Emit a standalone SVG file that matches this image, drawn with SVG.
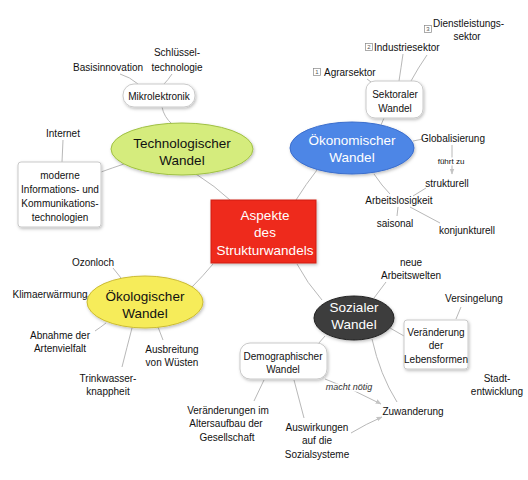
<svg xmlns="http://www.w3.org/2000/svg" width="528" height="480" viewBox="0 0 528 480">
<defs>
<filter id="sh" x="-20%" y="-20%" width="140%" height="150%">
<feDropShadow dx="1" dy="1.5" stdDeviation="1.5" flood-color="#000" flood-opacity="0.25"/>
</filter>
<marker id="ar" viewBox="0 0 10 10" refX="9" refY="5" markerWidth="6" markerHeight="6" orient="auto">
<path d="M0,1 L10,5 L0,9 z" fill="#c4c4c4"/>
</marker>
<style>
text{font-family:"Liberation Sans","Noto Sans",sans-serif;fill:#111;}
.t{font-size:10px;text-anchor:middle;}
.ts{font-size:10px;text-anchor:start;}
.big{font-size:13.5px;text-anchor:middle;}
.w{fill:#fff;}
.lbl{font-size:8px;text-anchor:middle;paint-order:stroke;stroke:#fff;stroke-width:3px;}
.it{font-size:9px;font-style:italic;text-anchor:middle;fill:#333;paint-order:stroke;stroke:#fff;stroke-width:3px;}
.box{fill:#fff;stroke:#c9c9c9;stroke-width:1;filter:url(#sh);}
.ic{fill:#fff;stroke:#888;stroke-width:0.7;}
.icn{font-size:6px;text-anchor:middle;fill:#555;}
#connectors path{fill:none;stroke:#b8b8b8;stroke-width:1;}
</style>
</defs>
<rect width="528" height="480" fill="#fff"/>

<g id="connectors">
<path d="M120,74 Q130,77 138,84"/>
<path d="M172,74 Q168,80 164,84"/>
<path d="M162,107 Q164,117 172,124"/>
<path d="M63,140 L62,162"/>
<path d="M101,172 Q112,168 124,164"/>
<path d="M196,174 Q215,186 230,200"/>
<path d="M296,200 Q306,184 317,170"/>
<path d="M384,118 L381,125"/>
<path d="M367,79 L375,85"/>
<path d="M403,54 Q401,68 399,81"/>
<path d="M427,55 Q418,68 411,81"/>
<path d="M413,141 L423,139"/>
<path d="M452,145 L452,174" marker-end="url(#ar)"/>
<path d="M374,174 Q382,186 390,194"/>
<path d="M413,196 L426,188"/>
<path d="M398,207 L397,216"/>
<path d="M410,207 Q425,215 440,223"/>
<path d="M213,264 Q203,276 192,287"/>
<path d="M113,268 L121,278"/>
<path d="M85,296 L89,297"/>
<path d="M95,331 Q101,327 106,323"/>
<path d="M122,367 Q127,347 132,328"/>
<path d="M163,340 L158,327"/>
<path d="M297,264 Q307,283 322,300"/>
<path d="M374,298 Q380,290 386,282"/>
<path d="M461,307 L456,319"/>
<path d="M390,328 L404,336"/>
<path d="M325,336 L318,344"/>
<path d="M372,339 Q380,375 397,402"/>
<path d="M325,379 Q355,390 381,404" marker-end="url(#ar)"/>
<path d="M264,380 L254,401"/>
<path d="M294,380 L304,418"/>
<path d="M351,433 Q366,424 382,417" marker-end="url(#ar)"/>
</g>

<g id="central">
<rect x="211" y="200" width="105" height="63" fill="#ee2a1f" stroke="#d01e14" stroke-width="1" filter="url(#sh)"/>
<text class="big w" x="265" y="220">Aspekte</text>
<text class="big w" x="265" y="237">des</text>
<text class="big w" x="265" y="255">Strukturwandels</text>
</g>

<g id="tech">
<ellipse cx="182" cy="149" rx="71" ry="26" fill="#d5ec7d" stroke="#9fc043" stroke-width="1" filter="url(#sh)"/>
<text class="big" x="182" y="148">Technologischer</text>
<text class="big" x="182" y="165">Wandel</text>
</g>
<g id="mikro">
<rect x="123" y="84" width="72" height="23" rx="11" class="box"/>
<text class="t" x="159" y="99.5">Mikrolektronik</text>
</g>
<g id="basis"><text class="t" x="108" y="70.5">Basisinnovation</text></g>
<g id="schluessel"><text class="t" x="177" y="55.5">Schlüssel-</text><text class="t" x="177" y="70.5">technologie</text></g>
<g id="internet"><text class="t" x="63" y="136.5">Internet</text></g>
<g id="iuk">
<rect x="18" y="162" width="83" height="65" rx="3" class="box"/>
<text class="t" x="60" y="178.5">moderne</text>
<text class="t" x="60" y="192.5">Informations- und</text>
<text class="t" x="60" y="206.5">Kommunikations-</text>
<text class="t" x="60" y="220.5">technologien</text>
</g>

<g id="oeko">
<ellipse cx="352" cy="148" rx="62" ry="26" fill="#4d86e6" stroke="#3a6dcc" stroke-width="1" filter="url(#sh)"/>
<text class="big w" x="352" y="145">Ökonomischer</text>
<text class="big w" x="352" y="162">Wandel</text>
</g>
<g id="sektoral">
<rect x="366" y="81" width="57" height="37" rx="9" class="box"/>
<text class="t" x="395" y="97.5">Sektoraler</text>
<text class="t" x="395" y="111.5">Wandel</text>
</g>
<g id="agrar">
<rect x="313.5" y="68.5" width="7" height="7" class="ic"/><text class="icn" x="317" y="74.2">1</text>
<text class="ts" x="324" y="75.5">Agrarsektor</text>
</g>
<g id="industrie">
<rect x="365.5" y="43.5" width="7" height="7" class="ic"/><text class="icn" x="369" y="49.2">2</text>
<text class="ts" x="374" y="50.5">Industriesektor</text>
</g>
<g id="dienst">
<rect x="424.5" y="25.5" width="7" height="7" class="ic"/><text class="icn" x="428" y="31.2">3</text>
<text class="ts" x="433" y="26.5">Dienstleistungs-</text>
<text class="t" x="467" y="39.5">sektor</text>
</g>
<g id="global"><text class="t" x="453" y="141.5">Globalisierung</text></g>
<g id="fuehrt"><text class="lbl" x="451" y="164">führt zu</text></g>
<g id="strukturell"><text class="t" x="447" y="186.5">strukturell</text></g>
<g id="arbeitslos"><text class="t" x="399" y="203.5">Arbeitslosigkeit</text></g>
<g id="saisonal"><text class="t" x="395" y="226.5">saisonal</text></g>
<g id="konjunkturell"><text class="t" x="467" y="233.5">konjunkturell</text></g>

<g id="oekol">
<ellipse cx="145" cy="302" rx="58" ry="26" fill="#f6ec5a" stroke="#cbbb33" stroke-width="1" filter="url(#sh)"/>
<text class="big" x="145" y="301">Ökologischer</text>
<text class="big" x="145" y="318">Wandel</text>
</g>
<g id="ozon"><text class="t" x="93" y="265.5">Ozonloch</text></g>
<g id="klima"><text class="t" x="50" y="297.5">Klimaerwärmung</text></g>
<g id="arten"><text class="t" x="60" y="338.5">Abnahme der</text><text class="t" x="60" y="351.5">Artenvielfalt</text></g>
<g id="wuesten"><text class="t" x="172" y="352.5">Ausbreitung</text><text class="t" x="172" y="365.5">von Wüsten</text></g>
<g id="trinkwasser"><text class="t" x="108" y="381.5">Trinkwasser-</text><text class="t" x="108" y="394.5">knappheit</text></g>

<g id="sozial">
<ellipse cx="354" cy="318" rx="40" ry="22" fill="#3c3c3c" stroke="#222" stroke-width="1" filter="url(#sh)"/>
<text class="big w" x="354" y="311.5">Sozialer</text>
<text class="big w" x="354" y="328.5">Wandel</text>
</g>
<g id="neue"><text class="t" x="411" y="265.5">neue</text><text class="t" x="411" y="278.5">Arbeitswelten</text></g>
<g id="versingelung"><text class="t" x="474" y="301.5">Versingelung</text></g>
<g id="lebensformen">
<rect x="404" y="320" width="64" height="49" rx="3" class="box"/>
<text class="t" x="436" y="335.5">Veränderung</text>
<text class="t" x="436" y="348.5">der</text>
<text class="t" x="436" y="362.5">Lebensformen</text>
</g>
<g id="stadt"><text class="t" x="497" y="381.5">Stadt-</text><text class="t" x="497" y="394.5">entwicklung</text></g>
<g id="demograph">
<rect x="240" y="343" width="87" height="36" rx="10" class="box"/>
<text class="t" x="283" y="359.5">Demographischer</text>
<text class="t" x="283" y="372.5">Wandel</text>
</g>
<g id="macht"><text class="it" x="349" y="390">macht nötig</text></g>
<g id="zuwanderung"><text class="t" x="413" y="414.5">Zuwanderung</text></g>
<g id="auswirkungen"><text class="t" x="317" y="430.5">Auswirkungen</text><text class="t" x="317" y="443.5">auf die</text><text class="t" x="317" y="457.5">Sozialsysteme</text></g>
<g id="altersaufbau"><text class="t" x="228" y="413.5">Veränderungen im</text><text class="t" x="226" y="426.5">Altersaufbau der</text><text class="t" x="227" y="440.5">Gesellschaft</text></g>
</svg>
